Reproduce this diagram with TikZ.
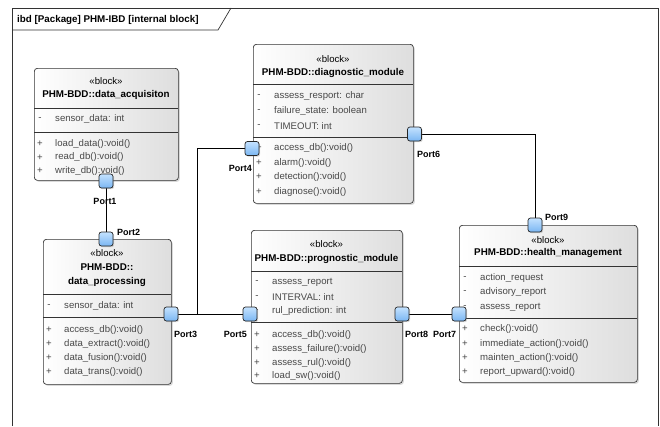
\documentclass[tikz,border=0pt]{standalone}
\usepackage{fontspec}
\setmainfont{Liberation Sans}
\usetikzlibrary{shadows}
\definecolor{portA}{HTML}{C4E2FF}
\definecolor{portB}{HTML}{7AB6F2}
\definecolor{edgec}{HTML}{333333}
\definecolor{memc}{HTML}{484848}
\pgfdeclarelayer{bg}
\pgfsetlayers{bg,main}
\newcommand\mbr[5]{%
  \node[sgn] (#1s) at ({#2+6},#3) {#4};
  \node[mem] (#1) at ({#2+21},#3) {#5};}
\begin{document}
\begin{tikzpicture}[x=1pt,y=-1pt,
  blockbox/.style={draw=edgec, line width=0.7pt, rounded corners=3pt,
    left color=white, right color=black!13, inner sep=0pt, anchor=north west,
    drop shadow={shadow xshift=1.5pt, shadow yshift=-1.5pt, opacity=0.3}},
  sepline/.style={draw=edgec, line width=0.7pt},
  mem/.style={anchor=west, inner sep=0pt, text=memc, font=\fontsize{9.6}{11}\selectfont},
  sgn/.style={inner sep=0pt, text=memc, font=\fontsize{9.6}{11}\selectfont},
  stereo/.style={inner sep=0pt, font=\fontsize{9.6}{11}\selectfont},
  bname/.style={inner sep=0pt, font=\bfseries\fontsize{9.8}{12}\selectfont},
  port/.style={draw=black!85, line width=0.7pt, rounded corners=2.5pt,
    minimum size=14pt, inner sep=0pt, top color=portA, bottom color=portB,
    drop shadow={shadow xshift=1.2pt, shadow yshift=-1.2pt, opacity=0.3}},
  plabel/.style={inner sep=0pt, font=\bfseries\fontsize{9}{11}\selectfont},
  wire/.style={draw=black, line width=0.7pt}]
\useasboundingbox (0,0) rectangle (660,426);
% frame
\draw[draw=edgec, line width=0.7pt] (12,426) -- (12,8) -- (658,8) -- (658,426);
\draw[draw=edgec, line width=0.7pt] (12,30) -- (218,30) -- (231,8);
\node[bname, anchor=west] (title) at (17,19.5) {ibd [Package] PHM-IBD [internal block]};

% Block A: data_acquisiton
\node[blockbox, minimum width=144pt, minimum height=112pt] (A) at (34,68) {};
\node[stereo] (As) at (106,81) {«block»};
\node[bname] (An) at (106,95) {PHM-BDD::data\_acquisiton};
\draw[sepline] (34,108) -- (178,108);
\draw[sepline] (34,132) -- (178,132);
\mbr{Aa1}{34}{119}{-}{sensor\_data: int}
\mbr{Ao1}{34}{144}{+}{load\_data():void()}
\mbr{Ao2}{34}{157.5}{+}{read\_db():void()}
\mbr{Ao3}{34}{171}{+}{write\_db():void()}

% Block B: data_processing
\node[blockbox, minimum width=128pt, minimum height=145pt] (B) at (43,239) {};
\node[stereo] (Bs) at (107,253) {«block»};
\node[bname] (Bn1) at (107,267) {PHM-BDD::};
\node[bname] (Bn2) at (107,282) {data\_processing};
\draw[sepline] (43,294) -- (171,294);
\draw[sepline] (43,317) -- (171,317);
\mbr{Ba1}{43}{306}{-}{sensor\_data: int}
\mbr{Bo1}{43}{330}{+}{access\_db():void()}
\mbr{Bo2}{43}{344}{+}{data\_extract():void()}
\mbr{Bo3}{43}{358}{+}{data\_fusion():void()}
\mbr{Bo4}{43}{372}{+}{data\_trans():void()}

% Block C: diagnostic_module
\node[blockbox, minimum width=160pt, minimum height=159pt] (C) at (253,44) {};
\node[stereo] (Cs) at (333,59) {«block»};
\node[bname] (Cn) at (333,73) {PHM-BDD::diagnostic\_module};
\draw[sepline] (253,84) -- (413,84);
\draw[sepline] (253,137) -- (413,137);
\mbr{Ca1}{253}{96}{-}{assess\_resport: char}
\mbr{Ca2}{253}{111}{-}{failure\_state: boolean}
\mbr{Ca3}{253}{126}{-}{TIMEOUT: int}
\mbr{Co1}{253}{148}{+}{access\_db():void()}
\mbr{Co2}{253}{163}{+}{alarm():void()}
\mbr{Co3}{253}{177}{+}{detection():void()}
\mbr{Co4}{253}{192}{+}{diagnose():void()}

% Block D: prognostic_module
\node[blockbox, minimum width=151pt, minimum height=153pt] (D) at (251,230) {};
\node[stereo] (Ds) at (326.5,244) {«block»};
\node[bname] (Dn) at (326.5,259) {PHM-BDD::prognostic\_module};
\draw[sepline] (251,271) -- (402,271);
\draw[sepline] (251,322) -- (402,322);
\mbr{Da1}{251}{282}{-}{assess\_report}
\mbr{Da2}{251}{297}{-}{INTERVAL: int}
\mbr{Da3}{251}{311}{-}{rul\_prediction: int}
\mbr{Do1}{251}{335}{+}{access\_db():void()}
\mbr{Do2}{251}{349}{+}{assess\_failure():void()}
\mbr{Do3}{251}{363}{+}{assess\_rul():void()}
\mbr{Do4}{251}{376}{+}{load\_sw():void()}

% Block E: health_management
\node[blockbox, minimum width=178pt, minimum height=157pt] (E) at (459,225) {};
\node[stereo] (Es) at (548,240) {«block»};
\node[bname] (En) at (548,253) {PHM-BDD::health\_management};
\draw[sepline] (459,266) -- (637,266);
\draw[sepline] (459,318) -- (637,318);
\mbr{Ea1}{459}{278}{-}{action\_request}
\mbr{Ea2}{459}{292}{-}{advisory\_report}
\mbr{Ea3}{459}{307}{-}{assess\_report}
\mbr{Eo1}{459}{329}{+}{check():void()}
\mbr{Eo2}{459}{344}{+}{immediate\_action():void()}
\mbr{Eo3}{459}{358}{+}{mainten\_action():void()}
\mbr{Eo4}{459}{372}{+}{report\_upward():void()}

% ports
\node[port] (p1) at (106,181) {};
\node[port] (p2) at (106,239) {};
\node[port] (p3) at (171,314) {};
\node[port] (p4) at (252,148.5) {};
\node[port] (p5) at (250,314) {};
\node[port] (p6) at (414.5,134) {};
\node[port] (p7) at (459,314) {};
\node[port] (p8) at (402,314) {};
\node[port] (p9) at (535,225) {};
\coordinate (j) at (197,314);

% port labels
\node[plabel] (l1) at (105,201) {Port1};
\node[plabel, anchor=west] (l2) at (117,232) {Port2};
\node[plabel, anchor=west] (l3) at (174,334) {Port3};
\node[plabel, anchor=east] (l4) at (252,168) {Port4};
\node[plabel, anchor=east] (l5) at (247,334) {Port5};
\node[plabel, anchor=west] (l6) at (417,154.5) {Port6};
\node[plabel, anchor=west] (l7) at (433,334) {Port7};
\node[plabel, anchor=west] (l8) at (405,334) {Port8};
\node[plabel, anchor=west] (l9) at (545,217) {Port9};

% connectors
\begin{pgfonlayer}{bg}
\draw[wire] (p1) -- (p2);
\draw[wire] (p3) -- (p5);
\draw[wire] (p4) -| (j);
\draw[wire] (p6) -| (p9);
\draw[wire] (p8) -- (p7);
\end{pgfonlayer}
\end{tikzpicture}
\end{document}
